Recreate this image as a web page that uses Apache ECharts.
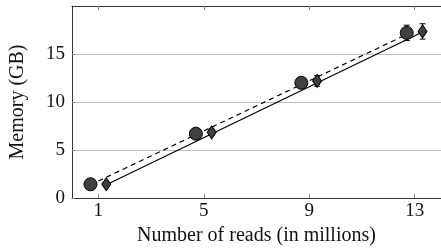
<!DOCTYPE html>
<html>
<head>
<meta charset="utf-8">
<script src="https://cdn.jsdelivr.net/npm/echarts@6/dist/echarts.min.js"></script>
<style>
  html, body { margin: 0; padding: 0; background: #fff; }
  #myChart { width: 441px; height: 249px; }
</style>
</head>
<body>
<div id="myChart"></div>
<script>
// number of reads (millions)
const reads = [1, 5, 9, 13];
const xTicks = [1, 5, 9, 13];
const yTicks = [0, 5, 10, 15];
// circle series
const memCircle = [1.43, 6.7, 12.0, 17.2];
const errCircle = [0.15, 0.2, 0.25, 0.8];
// diamond series
const memDiamond = [1.43, 6.84, 12.2, 17.35];
const errDiamond = [0.15, 0.3, 0.55, 0.8];
// fitted lines (end points)
const fitDashed = [[1.0, 1.77], [12.75, 17.1]];
const fitSolid = [[1.42, 1.53], [13.3, 17.3]];

const dodge = 0.3;
const font = "'Liberation Serif', serif";

let myChart = echarts.init(document.getElementById("myChart"));

function pts(vals, off) {
  return reads.map((r, i) => [r + off, vals[i]]);
}
function errData(vals, errs, off) {
  return reads.map((r, i) => [r + off, vals[i] - errs[i], vals[i] + errs[i]]);
}
function errRender(params, api) {
  const lo = api.coord([api.value(0), api.value(1)]);
  const hi = api.coord([api.value(0), api.value(2)]);
  const w = 3;
  const st = { stroke: "#000", lineWidth: 1 };
  return {
    type: "group",
    children: [
      { type: "line", shape: { x1: lo[0], y1: lo[1], x2: hi[0], y2: hi[1] }, style: st },
      { type: "line", shape: { x1: lo[0] - w, y1: lo[1], x2: lo[0] + w, y2: lo[1] }, style: st },
      { type: "line", shape: { x1: hi[0] - w, y1: hi[1], x2: hi[0] + w, y2: hi[1] }, style: st },
    ],
  };
}

const axisLineStyle = { color: "#333", width: 1 };

myChart.setOption({
  animation: false,
  grid: { left: 72, right: 0, top: 6, bottom: 51, containLabel: false, outerBoundsMode: "none" },
  xAxis: [
    {
      type: "value",
      min: 0,
      max: 14,
      name: "Number of reads (in millions)",
      nameLocation: "middle",
      nameGap: 28,
      nameTextStyle: { fontFamily: font, fontSize: 20, color: "#111" },
      axisLine: { show: true, lineStyle: axisLineStyle },
      axisTick: { show: true, inside: true, length: 4, customValues: xTicks, lineStyle: { color: "#888" } },
      axisLabel: { customValues: xTicks, fontFamily: font, fontSize: 19, color: "#111", margin: 4 },
      splitLine: { show: false },
    },
    {
      type: "value",
      position: "top",
      min: 0,
      max: 14,
      axisLine: { show: true, lineStyle: axisLineStyle },
      axisTick: { show: true, inside: true, length: 4, customValues: xTicks, lineStyle: { color: "#888" } },
      axisLabel: { show: false },
      splitLine: { show: false },
    },
  ],
  yAxis: [
    {
      type: "value",
      min: 0,
      max: 20,
      interval: 5,
      name: "Memory (GB)",
      nameLocation: "middle",
      nameGap: 44,
      nameTextStyle: { fontFamily: font, fontSize: 20, color: "#111" },
      axisLine: { show: true, lineStyle: axisLineStyle },
      axisTick: { show: true, inside: true, length: 3, customValues: yTicks, lineStyle: { color: "#888" } },
      axisLabel: { customValues: yTicks, fontFamily: font, fontSize: 19, color: "#111", margin: 7 },
      splitLine: { show: true, lineStyle: { color: "#bdbdbd", width: 1 } },
    },
  ],
  series: [
    {
      type: "line",
      data: fitDashed,
      symbol: "none",
      lineStyle: { color: "#000", width: 1.2, type: [5, 4] },
      z: 1,
    },
    {
      type: "line",
      data: fitSolid,
      symbol: "none",
      lineStyle: { color: "#000", width: 1.2 },
      z: 1,
    },
    {
      type: "custom",
      data: errData(memCircle, errCircle, -dodge),
      renderItem: errRender,
      z: 2,
    },
    {
      type: "custom",
      data: errData(memDiamond, errDiamond, dodge),
      renderItem: errRender,
      z: 2,
    },
    {
      type: "scatter",
      data: pts(memCircle, -dodge),
      symbol: "circle",
      symbolSize: 13,
      itemStyle: { color: "#404040", borderColor: "#000", borderWidth: 1, opacity: 1 },
      z: 3,
    },
    {
      type: "scatter",
      data: pts(memDiamond, dodge),
      symbol: "diamond",
      symbolSize: [9, 13],
      itemStyle: { color: "#404040", borderColor: "#000", borderWidth: 1, opacity: 1 },
      z: 3,
    },
  ],
});
</script>
</body>
</html>
